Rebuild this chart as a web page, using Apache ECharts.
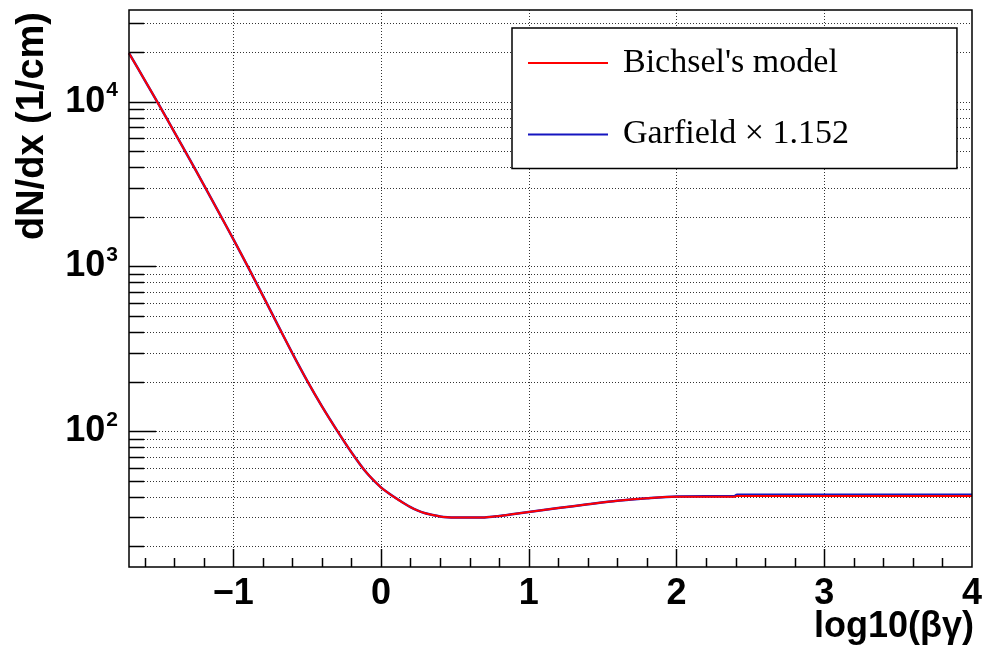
<!DOCTYPE html>
<html>
<head>
<meta charset="utf-8">
<script src="https://cdn.jsdelivr.net/npm/echarts@6/dist/echarts.min.js"></script>
<style>
html,body{margin:0;padding:0;background:#fff;}
#chart{width:982px;height:655px;}
</style>
</head>
<body>
<div id="chart"></div>
<script>
// ---- data ----
const X_MIN = -1.705, X_MAX = 4, Y_MIN = 15, Y_MAX = 36000;
const xValues = [-1.705, -1.6, -1.5, -1.4, -1.3, -1.2, -1.1, -1.0, -0.9, -0.8, -0.7, -0.6, -0.5, -0.4, -0.3, -0.2, -0.1,
  0.0, 0.05, 0.1, 0.15, 0.2, 0.25, 0.3, 0.35, 0.4, 0.45, 0.5, 0.6, 0.7, 0.8, 0.9, 1.0, 1.2, 1.4, 1.6, 1.8, 2.0, 2.2, 2.39, 2.41, 3.0, 3.5, 4.0];
const bichsel = [19700, 13580, 9480, 6590, 4560, 3140, 2150, 1470, 995, 667, 445, 298, 203, 142, 102, 74.6, 56.4,
  45.6, 42.2, 39.3, 36.8, 34.6, 33, 31.8, 31, 30.4, 30.1, 30, 30, 30, 30.6, 31.5, 32.4, 34.2, 36, 37.8, 39.2, 40, 40, 40, 40.5, 40.5, 40.5, 40.5];
const garfield = [19700, 13580, 9480, 6590, 4560, 3140, 2150, 1470, 995, 667, 445, 298, 203, 142, 102, 74.6, 56.4,
  45.6, 42.2, 39.3, 36.8, 34.6, 33, 31.8, 31, 30.4, 30.1, 30, 30, 30, 30.6, 31.5, 32.4, 34.2, 36, 37.8, 39.2, 40.2, 40.3, 40.3, 41.2, 41.2, 41.2, 41.2];
const seriesNames = ["Bichsel's model", "Garfield \u00d7 1.152"];
const xMajorTicks = [-1, 0, 1, 2, 3];
const xMinorTicks = [-1.6, -1.4, -1.2, -0.8, -0.6, -0.4, -0.2, 0.2, 0.4, 0.6, 0.8, 1.2, 1.4, 1.6, 1.8, 2.2, 2.4, 2.6, 2.8, 3.2, 3.4, 3.6, 3.8];
const yMajorTicks = [100, 1000, 10000];
const yMinorTicks = [20, 30, 40, 50, 60, 70, 80, 90, 200, 300, 400, 500, 600, 700, 800, 900,
  2000, 3000, 4000, 5000, 6000, 7000, 8000, 9000, 20000, 30000];
const xTitle = 'log10(\u03b2\u03b3)';
const yTitle = 'dN/dx (1/cm)';

// ---- chart ----
const chart = echarts.init(document.getElementById('chart'), null, {renderer: 'canvas'});
const FONT = "'Liberation Sans', Arial, Helvetica, sans-serif";
const GRIDSTYLE = {stroke: '#333', lineWidth: 1, lineDash: [1, 2]};
const px = v => Math.round(v) + 0.5;

function yLineSeries(values, kind, len) {
  return {
    type: 'custom', silent: true, z: kind === 'grid' ? 1 : 5,
    data: values.map(v => [X_MIN, v]),
    encode: {x: 0, y: 1},
    renderItem: (params, api) => {
      const cs = params.coordSys;
      const y = px(api.coord([X_MIN, api.value(1)])[1]);
      if (kind === 'grid') {
        return {type: 'line', shape: {x1: cs.x, y1: y, x2: cs.x + cs.width, y2: y}, style: GRIDSTYLE};
      }
      return {type: 'line', shape: {x1: cs.x, y1: y, x2: cs.x + len, y2: y}, style: {stroke: '#000', lineWidth: 1.5}};
    }
  };
}
function xLineSeries(values, kind, len) {
  return {
    type: 'custom', silent: true, z: kind === 'grid' ? 1 : 5,
    data: values.map(v => [v, Y_MIN]),
    encode: {x: 0, y: 1},
    renderItem: (params, api) => {
      const cs = params.coordSys;
      const x = px(api.coord([api.value(0), Y_MIN])[0]);
      if (kind === 'grid') {
        return {type: 'line', shape: {x1: x, y1: cs.y, x2: x, y2: cs.y + cs.height}, style: GRIDSTYLE};
      }
      const yb = cs.y + cs.height;
      return {type: 'line', shape: {x1: x, y1: yb, x2: x, y2: yb - len}, style: {stroke: '#000', lineWidth: 1.5}};
    }
  };
}

const option = {
  animation: false,
  backgroundColor: '#fff',
  grid: {left: 129, right: 10, top: 10, bottom: 88, show: true, borderColor: '#000', borderWidth: 1.5,
         backgroundColor: 'transparent', z: 10, containLabel: false, outerBoundsMode: 'none'},
  xAxis: {
    type: 'value', min: X_MIN, max: X_MAX, minInterval: 1, maxInterval: 1,
    axisLine: {show: false}, axisTick: {show: false}, splitLine: {show: false},
    axisLabel: {
      margin: 9, color: '#000', fontFamily: FONT, fontWeight: 'bold', fontSize: 36, hideOverlap: false,
      formatter: v => {
        if (Math.abs(v - Math.round(v)) > 1e-6) return '';
        const r = Math.round(v);
        return r < 0 ? '\u2212' + Math.abs(r) : String(r);
      }
    }
  },
  yAxis: {
    type: 'log', min: Y_MIN, max: Y_MAX, logBase: 10,
    axisLine: {show: false}, axisTick: {show: false}, splitLine: {show: false},
    axisLabel: {
      margin: 11, color: '#000',
      formatter: v => {
        const l = Math.log10(v), e = Math.round(l);
        if (Math.abs(l - e) > 1e-6) return '';
        return '{b|10}{s|' + e + '}';
      },
      rich: {
        b: {fontFamily: FONT, fontWeight: 'bold', fontSize: 36, color: '#000'},
        s: {fontFamily: FONT, fontWeight: 'bold', fontSize: 21, color: '#000', padding: [0, 0, 22, 1]}
      }
    }
  },
  legend: {
    data: seriesNames, orient: 'vertical', left: 512, top: 28,
    padding: [18, 108, 17, 15], itemWidth: 80, itemHeight: 14, itemGap: 37.5,
    itemStyle: {opacity: 0},
    backgroundColor: '#fff', borderColor: '#000', borderWidth: 1.5, borderRadius: 0,
    textStyle: {fontFamily: "'Liberation Serif', 'Times New Roman', serif", fontSize: 34, color: '#000', padding: [0, 0, 0, 10]},
    selectedMode: false, z: 20
  },
  graphic: [
    {type: 'text', right: 8, top: 609, style: {text: xTitle, font: "bold 36px " + FONT, fill: '#000'}},
    {type: 'text', x: 33, y: 12, rotation: Math.PI / 2,
     style: {text: yTitle, font: "bold 38px " + FONT, fill: '#000', textAlign: 'right', textVerticalAlign: 'middle'}}
  ],
  series: [
    yLineSeries(yMajorTicks, 'grid'),
    yLineSeries(yMinorTicks, 'grid'),
    xLineSeries(xMajorTicks, 'grid'),
    yLineSeries(yMajorTicks, 'tick', 27),
    yLineSeries(yMinorTicks, 'tick', 15),
    xLineSeries(xMajorTicks, 'tick', 18),
    xLineSeries(xMinorTicks, 'tick', 9),
    {
      name: seriesNames[1], type: 'line', symbol: 'none', z: 3, smooth: 0.3,
      data: xValues.map((x, i) => [x, garfield[i]]),
      lineStyle: {color: '#1515c0', width: 2.5}, itemStyle: {color: '#1515c0'}
    },
    {
      name: seriesNames[0], type: 'line', symbol: 'none', z: 4, smooth: 0.3,
      data: xValues.map((x, i) => [x, bichsel[i]]),
      lineStyle: {color: '#ff0000', width: 2}, itemStyle: {color: '#ff0000'}
    }
  ]
};
chart.setOption(option);
</script>
</body>
</html>
